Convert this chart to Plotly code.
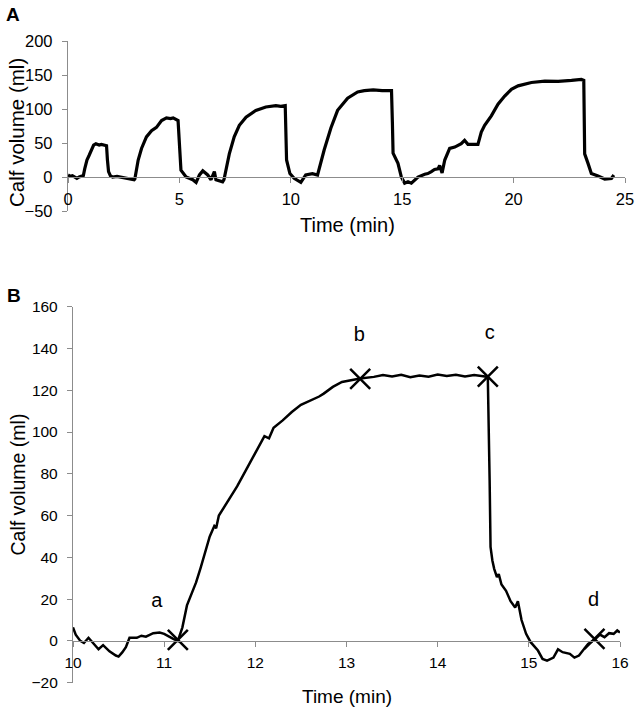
import plotly.graph_objects as go

# ---------------- Panel A data (time in min, calf volume in ml) ----------------
a_time = [0.0, 0.1, 0.2, 0.3, 0.4, 0.5, 0.6, 0.69, 0.75, 0.85, 0.95, 1.05, 1.15, 1.25, 1.4, 1.5, 1.6, 1.73,
          1.77, 1.82, 1.9, 2.0, 2.2, 2.5, 2.7, 2.97, 3.0, 3.15, 3.3, 3.52, 3.75, 3.97, 4.2, 4.42, 4.6, 4.72,
          4.94, 5.0, 5.07, 5.3, 5.6, 5.75, 5.9, 6.05, 6.27, 6.42, 6.57, 6.64, 6.94, 7.0, 7.24, 7.46, 7.69,
          7.99, 8.43, 8.88, 9.33, 9.55, 9.75, 9.81, 9.96, 10.15, 10.45, 10.67, 10.97, 11.2, 11.5, 11.8, 12.1,
          12.55, 13.0, 13.3, 13.7, 14.1, 14.52, 14.56, 14.59, 14.81, 14.96, 15.11, 15.26, 15.41, 15.56, 15.71,
          16.01, 16.15, 16.31, 16.45, 16.61, 16.68, 16.79, 16.91, 17.13, 17.36, 17.65, 17.8, 17.95, 18.4, 18.55,
          18.7, 19.0, 19.3, 19.6, 19.9, 20.2, 20.8, 21.4, 22.0, 22.6, 23.04, 23.15, 23.19, 23.34, 23.49, 23.79,
          24.09, 24.39, 24.5]
a_volume = [3, 1, 2, 0, -2, 0, 1, 2, 12, 25, 32, 40, 47, 49, 47, 48, 47, 46,
            25, 8, 2, 0, 1, -1, -3, -4, -3, 25, 42, 59, 68, 73, 83, 87, 86, 87,
            83, 39, 10, 0, -4, -8, 3, 9, 3, -4, 8, -4, -7, -4, 34, 59, 76,
            88, 98, 103, 105, 104, 105, 25, 5, -2, -8, 3, 5, 3, 40, 72, 98,
            116, 125, 127, 128, 127, 127, 80, 35, 20, 0, -9, -7, -9, -4, 0,
            4, 5, 8, 11, 12, 17, 6, 25, 42, 44, 49, 54, 48, 48, 66,
            76, 90, 107, 119, 129, 134, 139, 141, 140.5, 142, 143.5, 142, 34, 20, 5, 1.5,
            -3, -2, 3]

# ---------------- Panel B data ----------------
b_time = [10.0, 10.03, 10.08, 10.12, 10.17, 10.22, 10.28, 10.33, 10.4, 10.47, 10.5, 10.54, 10.58, 10.62,
          10.7, 10.75, 10.8, 10.88, 10.95, 11.0, 11.05, 11.1, 11.15, 11.2, 11.25, 11.3, 11.35, 11.4, 11.45,
          11.5, 11.55, 11.57, 11.6, 11.7, 11.8, 11.9, 12.0, 12.1, 12.15, 12.2, 12.3, 12.4, 12.5, 12.6, 12.7,
          12.75, 12.85, 12.95, 13.05, 13.15, 13.3, 13.4, 13.5, 13.6, 13.7, 13.8, 13.9, 14.0, 14.1, 14.2, 14.3,
          14.4, 14.5, 14.55, 14.57, 14.58, 14.6, 14.62, 14.65, 14.67, 14.7, 14.75, 14.8, 14.85, 14.88, 14.92,
          14.97, 15.02, 15.1, 15.15, 15.2, 15.27, 15.32, 15.37, 15.45, 15.5, 15.55, 15.6, 15.65, 15.72, 15.78,
          15.83, 15.88, 15.93, 15.97, 16.0]
b_volume = [6.5, 3, 0, -1, 1.5, -1, -4, -2, -5, -7, -7.5, -5.5, -3, 1.5,
            1.5, 2.5, 2, 3.7, 4, 3.4, 2, 1, 0, 6.5, 17, 22.5, 28, 35, 43,
            50, 55, 54, 60, 67, 74, 82, 90, 98, 97, 102, 105.6, 109.6, 113, 115, 117,
            118.4, 121.6, 124, 124.8, 125.6, 126.4, 127.3, 126.6, 127.4, 126.2, 127.1, 126.5, 127.5, 126.8, 127.4, 126.6,
            127.3, 126.7, 126.4, 77, 45, 38.5, 34.5, 30.5, 32, 27, 24, 19, 16, 19, 10,
            3.4, -0.6, -4.6, -8.6, -9.4, -8, -4, -5.4, -6.2, -8, -7, -4, -1.4, 0.5, 3,
            1.8, 3.7, 3.4, 5, 4]

mark_time = [11.15, 13.15, 14.55, 15.72]
mark_volume = [0.5, 125.5, 126.5, 1.0]
label_text = ["a", "b", "c", "d"]
label_time = [10.92, 13.14, 14.57, 15.71]
label_volume = [18.5, 146, 147, 19.3]

a_xticks = [0, 5, 10, 15, 20, 25]
a_yticks = [-50, 0, 50, 100, 150, 200]
b_xticks = [10, 11, 12, 13, 14, 15, 16]
b_yticks = [-20, 0, 20, 40, 60, 80, 100, 120, 140, 160]

# ---------------- layout geometry (pixels -> paper) ----------------
W, H = 638, 711
FONT = "Liberation Sans, Arial, sans-serif"
GRAY = "#8c8c8c"


def fx(p):
    return p / W


def fy(p):
    return 1 - p / H


a_xdom = [fx(68), fx(625)]
a_ydom = [fy(211), fy(41)]
a_yrange = [-50, 200]
b_xdom = [fx(73), fx(620)]
b_ydom = [fy(682.7), fy(306.7)]
b_yrange = [-20, 160]

a_xpos = a_ydom[0] + (0 - a_yrange[0]) / (a_yrange[1] - a_yrange[0]) * (a_ydom[1] - a_ydom[0])
b_xpos = b_ydom[0] + (0 - b_yrange[0]) / (b_yrange[1] - b_yrange[0]) * (b_ydom[1] - b_ydom[0])

fig = go.Figure()
fig.add_trace(go.Scatter(x=a_time, y=a_volume, mode="lines",
                         line=dict(color="black", width=3.2), xaxis="x", yaxis="y",
                         showlegend=False, hoverinfo="skip"))
fig.add_trace(go.Scatter(x=b_time, y=b_volume, mode="lines",
                         line=dict(color="black", width=2.5), xaxis="x2", yaxis="y2",
                         showlegend=False, hoverinfo="skip"))
fig.add_trace(go.Scatter(x=mark_time, y=mark_volume, mode="markers",
                         marker=dict(symbol="x-thin", size=20, color="black",
                                     line=dict(color="black", width=2.5)),
                         xaxis="x2", yaxis="y2", showlegend=False, cliponaxis=False))
fig.add_trace(go.Scatter(x=label_time, y=label_volume, mode="text", text=label_text,
                         textfont=dict(family=FONT, size=20, color="black"),
                         xaxis="x2", yaxis="y2", showlegend=False))

axis_common = dict(showline=True, linecolor=GRAY, linewidth=1.3, ticks="outside",
                   tickcolor=GRAY, ticklen=5, tickwidth=1.3, showgrid=False,
                   zeroline=False, automargin=False)


def note(text, x, y, size, angle=0):
    return dict(text=text, x=fx(x), y=fy(y), xref="paper", yref="paper",
                xanchor="center", yanchor="middle", showarrow=False,
                textangle=angle, font=dict(size=size))


fig.update_layout(
    width=W, height=H,
    margin=dict(l=0, r=0, t=0, b=0, pad=0, autoexpand=False),
    paper_bgcolor="white", plot_bgcolor="white",
    font=dict(family=FONT, color="black"),
    xaxis=dict(domain=a_xdom, range=[0, 25], anchor="free", position=a_xpos,
               tickvals=a_xticks, tickfont=dict(size=16.5), ticklabelstandoff=2,
               **axis_common),
    yaxis=dict(domain=a_ydom, range=a_yrange, anchor="x", tickvals=a_yticks,
               tickfont=dict(size=16.5), ticklabelstandoff=6, **axis_common),
    xaxis2=dict(domain=b_xdom, range=[10, 16], anchor="free", position=b_xpos,
                tickvals=b_xticks, tickfont=dict(size=15.5), ticklabelstandoff=2,
                **axis_common),
    yaxis2=dict(domain=b_ydom, range=b_yrange, anchor="x2", tickvals=b_yticks,
                tickfont=dict(size=15.5), ticklabelstandoff=6, **axis_common),
    annotations=[
        note("<b>A</b>", 13, 15, 19),
        note("<b>B</b>", 14, 295, 19),
        note("Calf volume (ml)", 16, 133, 20.5, -90),
        note("Time (min)", 347, 225, 20),
        note("Calf volume (ml)", 17.5, 485, 19.5, -90),
        note("Time (min)", 347, 696, 19),
    ],
)

fig.write_html("out.html", config={"displayModeBar": False},
               post_script="document.body.style.margin='0';document.body.style.overflow='hidden';")
